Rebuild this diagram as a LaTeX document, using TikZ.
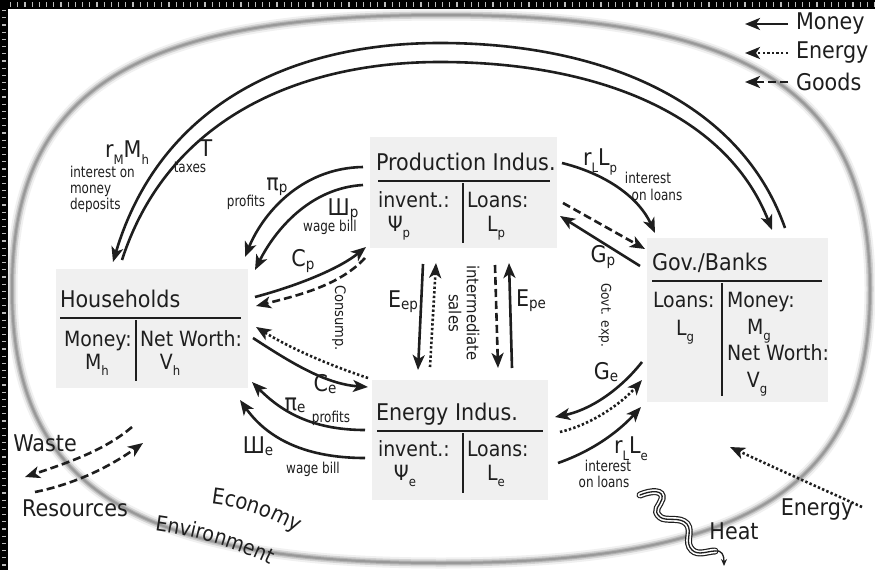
\documentclass[tikz,border=0pt]{standalone}
\usepackage{fontspec}
\setmainfont{DejaVu Sans}[FakeStretch=0.9]
\newfontfamily\narrowfont{DejaVu Sans}[FakeStretch=0.8]
\usetikzlibrary{arrows.meta,decorations.text}
\newcommand\lsb[1]{\raisebox{-0.1em}{\fontsize{15}{15}\selectfont #1}}
\newcommand\dsb[1]{\raisebox{-0.3em}{\fontsize{13}{13}\selectfont #1}}
\definecolor{boxgray}{RGB}{240,240,240}
\definecolor{ink}{RGB}{30,30,30}
\begin{document}
\begin{tikzpicture}[x=1pt,y=-1pt,
 every node/.style={inner sep=0pt, outer sep=0pt, text=ink},
 big/.style={font=\fontsize{23}{26}\selectfont},
 mid/.style={font=\fontsize{21}{24}\selectfont},
 small/.style={font=\narrowfont\fontsize{15}{16}\selectfont},
 rot/.style={font=\fontsize{14.5}{16}\selectfont, rotate=-90},
 boxbg/.style={fill=boxgray, draw=none, anchor=north west, inner sep=0pt},
 rule/.style={line width=1.2pt, ink},
 flow/.style={line width=2.6pt, ink, -{Stealth[length=15pt,width=12pt,inset=4pt]}},
 money/.style={flow},
 energyflow/.style={flow, dash pattern=on 2.4pt off 2.2pt},
 goods/.style={flow, dash pattern=on 8pt off 4pt},
]
\useasboundingbox (0,0) rectangle (875,570);
\fill[white] (0,0) rectangle (875,570);

% economy boundary
\foreach \w/\c in {11/gray!12, 7/gray!35, 4/gray!60, 2/gray!80}{
\draw[line width=\w pt, \c] (870,289) .. controls (870,92) and (750,15) .. (441,15)
  .. controls (132,15) and (12,92) .. (12,289)
  .. controls (12,486) and (132,563) .. (441,563)
  .. controls (750,563) and (870,486) .. (870,289) -- cycle;
}

% boxes
\node[boxbg, minimum width=187pt, minimum height=111pt] (prod) at (370,137) {};
\node[boxbg, minimum width=192pt, minimum height=119pt] (house) at (56,269) {};
\node[boxbg, minimum width=176pt, minimum height=120pt] (ener) at (372,380) {};
\node[boxbg, minimum width=181pt, minimum height=164pt] (gov) at (647,238) {};

% Production
\node[big, anchor=base west] (prodT) at (376,170) {Production Indus.};
\draw[rule] (378,181) -- (550,181);
\draw[rule] (463,183) -- (463,243);
\node[mid, anchor=base west] (prodI) at (378,207) {invent.:};
\node[mid, anchor=base] (prodPsi) at (399,231) {Ψ\dsb{p}};
\node[mid, anchor=base west] (prodL) at (467,207) {Loans:};
\node[mid, anchor=base] (prodLp) at (496,231) {L\dsb{p}};

% Households
\node[big, anchor=base west] (houseT) at (60,307) {Households};
\draw[rule] (60,318) -- (241,318);
\draw[rule] (136,320) -- (136,381);
\node[mid, anchor=base west] (houseM) at (64,346) {Money:};
\node[mid, anchor=base] (houseMh) at (97,369) {M\dsb{h}};
\node[mid, anchor=base west] (houseN) at (140,346) {Net Worth:};
\node[mid, anchor=base] (houseVh) at (170,369) {V\dsb{h}};

% Energy
\node[big, anchor=base west] (enerT) at (376,420) {Energy Indus.};
\draw[rule] (377,431) -- (543,431);
\draw[rule] (463,433) -- (463,493);
\node[mid, anchor=base west] (enerI) at (378,456) {invent.:};
\node[mid, anchor=base] (enerPsi) at (405,480) {Ψ\dsb{e}};
\node[mid, anchor=base west] (enerL) at (467,456) {Loans:};
\node[mid, anchor=base] (enerLe) at (496,480) {L\dsb{e}};

% Gov
\node[big, anchor=base west] (govT) at (652,270) {Gov./Banks};
\draw[rule] (652,281) -- (822,281);
\draw[rule] (722,283) -- (722,396);
\node[mid, anchor=base west] (govL) at (653,307) {Loans:};
\node[mid, anchor=base] (govLg) at (685,335) {L\dsb{g}};
\node[mid, anchor=base west] (govM) at (727,307) {Money:};
\node[mid, anchor=base] (govMg) at (759,334) {M\dsb{g}};
\node[mid, anchor=base west] (govN) at (727,360) {Net Worth:};
\node[mid, anchor=base] (govVg) at (757,387) {V\dsb{g}};

% connector end points
\coordinate (a1) at (785,228); \coordinate (a2) at (113,262);
\coordinate (b1) at (122,260); \coordinate (b2) at (772,230);
\coordinate (c1) at (363,167); \coordinate (c2) at (245,257);
\coordinate (d1) at (363,185); \coordinate (d2) at (255,270);
\coordinate (e1) at (255,297); \coordinate (e2) at (366,247);
\coordinate (f1) at (365,258); \coordinate (f2) at (256,306);
\coordinate (g1) at (368,378); \coordinate (g2) at (256,327);
\coordinate (h1) at (253,338); \coordinate (h2) at (368,387);
\coordinate (i1) at (365,430); \coordinate (i2) at (252,382);
\coordinate (j1) at (365,458); \coordinate (j2) at (240,400);
\coordinate (k1) at (423,264); \coordinate (k2) at (418,370);
\coordinate (l1) at (430,367); \coordinate (l2) at (436,263);
\coordinate (m1) at (495,265); \coordinate (m2) at (498,368);
\coordinate (n1) at (512,368); \coordinate (n2) at (509,263);
\coordinate (o1) at (562,163); \coordinate (o2) at (655,233);
\coordinate (p1) at (563,203); \coordinate (p2) at (645,249);
\coordinate (q1) at (640,266); \coordinate (q2) at (560,216);
\coordinate (r1) at (642,362); \coordinate (r2) at (555,417);
\coordinate (s1) at (560,432); \coordinate (s2) at (642,380);
\coordinate (t1) at (558,463); \coordinate (t2) at (641,407);
\coordinate (u1) at (132,427); \coordinate (u2) at (25,477);
\coordinate (v1) at (35,492); \coordinate (v2) at (143,443);
\coordinate (w1) at (862,507); \coordinate (w2) at (730,447);

% long arcs
\draw[money] (a1) .. controls (740,100) and (600,43) .. (440,43)
  .. controls (290,43) and (160,105) .. (a2);
\draw[money] (b1) .. controls (168,118) and (300,62) .. (440,62)
  .. controls (590,62) and (725,110) .. (b2);

% production <-> households
\draw[money] (c1) .. controls (300,168) and (262,215) .. (c2);
\draw[money] (d1) .. controls (310,188) and (275,230) .. (d2);
\draw[money] (e1) .. controls (300,285) and (340,268) .. (e2);
\draw[goods] (f1) .. controls (340,285) and (300,295) .. (f2);

% energy <-> households
\draw[energyflow] (g1) .. controls (320,362) and (285,345) .. (g2);
\draw[money] (h1) .. controls (290,362) and (325,384) .. (h2);
\draw[money] (i1) .. controls (310,430) and (280,410) .. (i2);
\draw[money] (j1) .. controls (300,458) and (265,435) .. (j2);

% production <-> energy
\draw[money] (k1) -- (k2);
\draw[energyflow] (l1) -- (l2);
\draw[goods] (m1) -- (m2);
\draw[money] (n1) -- (n2);

% gov <-> industries
\draw[money] (o1) .. controls (610,175) and (640,200) .. (o2);
\draw[goods] (p1) -- (p2);
\draw[money] (q1) -- (q2);
\draw[money] (r1) .. controls (620,390) and (590,410) .. (r2);
\draw[energyflow] (s1) .. controls (590,425) and (620,405) .. (s2);
\draw[money] (t1) .. controls (595,450) and (620,430) .. (t2);

% environment
\draw[goods] (u1) .. controls (105,450) and (70,462) .. (u2);
\draw[goods] (v1) .. controls (70,485) and (105,470) .. (v2);
\draw[energyflow] (w1) .. controls (820,488) and (775,468) .. (w2);

% heat squiggle
\coordinate (hs) at (640,495); \coordinate (he) at (715,551); \coordinate (ht) at (724,566);
\foreach \w/\c in {7/ink, 4.6/white, 1.3/ink}{
\draw[line width=\w pt, \c, line cap=round] (hs) .. controls (652,490) and (664,490) .. (662,499)
  .. controls (660,506) and (652,510) .. (660,517)
  .. controls (666,522) and (680,516) .. (687,524)
  .. controls (693,532) and (684,542) .. (692,550)
  .. controls (698,556) and (708,551) .. (he);
}
\draw[line width=1.3pt, ink, -{Stealth[length=7pt,width=6pt]}] (he) .. controls (722,550) and (724,555) .. (ht);

% labels
\node[big] (lrm) at (127,153) {r\dsb{M}M\dsb{h}};
\node[small, anchor=base west] (lint) at (70,177) {interest on};
\node[small, anchor=base west] (lmon) at (70,193) {money};
\node[small, anchor=base west] (ldep) at (70,209) {deposits};
\node[big] (lT) at (206,148) {T};
\node[small, anchor=base] (ltax) at (190,172) {taxes};
\node[big] (lpip) at (277,187) {π\lsb{p}};
\node[small] (lprof1) at (246,202) {profits};
\node[big] (lshp) at (343,210) {Ш\lsb{p}};
\node[small] (lwb1) at (330,227) {wage bill};
\node[big] (lcp) at (303,261) {C\lsb{p}};
\node[rot] (lcons) at (339,318) {Consump.};
\node[big] (lce) at (325,384) {C\lsb{e}};
\node[big] (lpie) at (295,405) {π\lsb{e}};
\node[small] (lprof2) at (331,418) {profits};
\node[big] (lshe) at (258,446) {Ш\lsb{e}};
\node[small] (lwb2) at (313,469) {wage bill};
\node[big] (lep) at (403,302) {E\lsb{ep}};
\node[big] (lpe) at (531,301) {E\lsb{pe}};
\node[rot, align=center, font=\fontsize{16.5}{18}\selectfont] (lint2) at (464,313) {intermediate\\sales};
\node[big] (lrlp) at (600,162) {r\dsb{L}L\dsb{p}};
\node[small] (lil1) at (648,178) {interest};
\node[small] (lol1) at (657,195) {on loans};
\node[big] (lgp) at (603,257) {G\lsb{p}};
\node[rot, font=\fontsize{13.5}{15}\selectfont] (lgov) at (605,315) {Govt. exp.};
\node[big] (lge) at (606,372) {G\lsb{e}};
\node[big] (lrle) at (631,449) {r\dsb{L}L\dsb{e}};
\node[small] (lil2) at (608,466) {interest};
\node[small] (lol2) at (604,482) {on loans};
\node[big] (lwaste) at (45,443) {Waste};
\node[big] (lres) at (75,508) {Resources};
\path[decorate, decoration={text along path, text align=center,
  text={|\fontsize{22}{22}\selectfont\color{ink}|Economy}}]
  (205,503) .. controls (240,506) and (272,517) .. (302,536);
\path[decorate, decoration={text along path, text align=center,
  text={|\fontsize{21}{21}\selectfont\color{ink}|Environment}}]
  (143,529) .. controls (190,534) and (240,548) .. (281,570);
\node[big] (lheat) at (734,531) {Heat};
\node[big] (lenergy) at (817,510) {Energy};

% legend
\coordinate (lg1) at (788,24); \coordinate (lg2) at (745,24);
\coordinate (lg3) at (788,53); \coordinate (lg4) at (745,53);
\coordinate (lg5) at (788,82); \coordinate (lg6) at (745,82);
\draw[money] (lg1) -- (lg2);
\draw[energyflow] (lg3) -- (lg4);
\draw[goods] (lg5) -- (lg6);
\node[big, anchor=west] (lmoney) at (796,24) {Money};
\node[big, anchor=west] (lenergyleg) at (796,53) {Energy};
\node[big, anchor=west] (lgoods) at (796,82) {Goods};

% film strip border
\fill[black] (0,0) rectangle (875,9);
\fill[black] (0,0) rectangle (8,570);
\draw[gray!55, line width=5pt, dash pattern=on 1.2pt off 6pt] (10,4.5) -- (875,4.5);
\draw[gray!55, line width=4.5pt, dash pattern=on 1.2pt off 6pt] (4,10) -- (4,570);
\end{tikzpicture}
\end{document}
